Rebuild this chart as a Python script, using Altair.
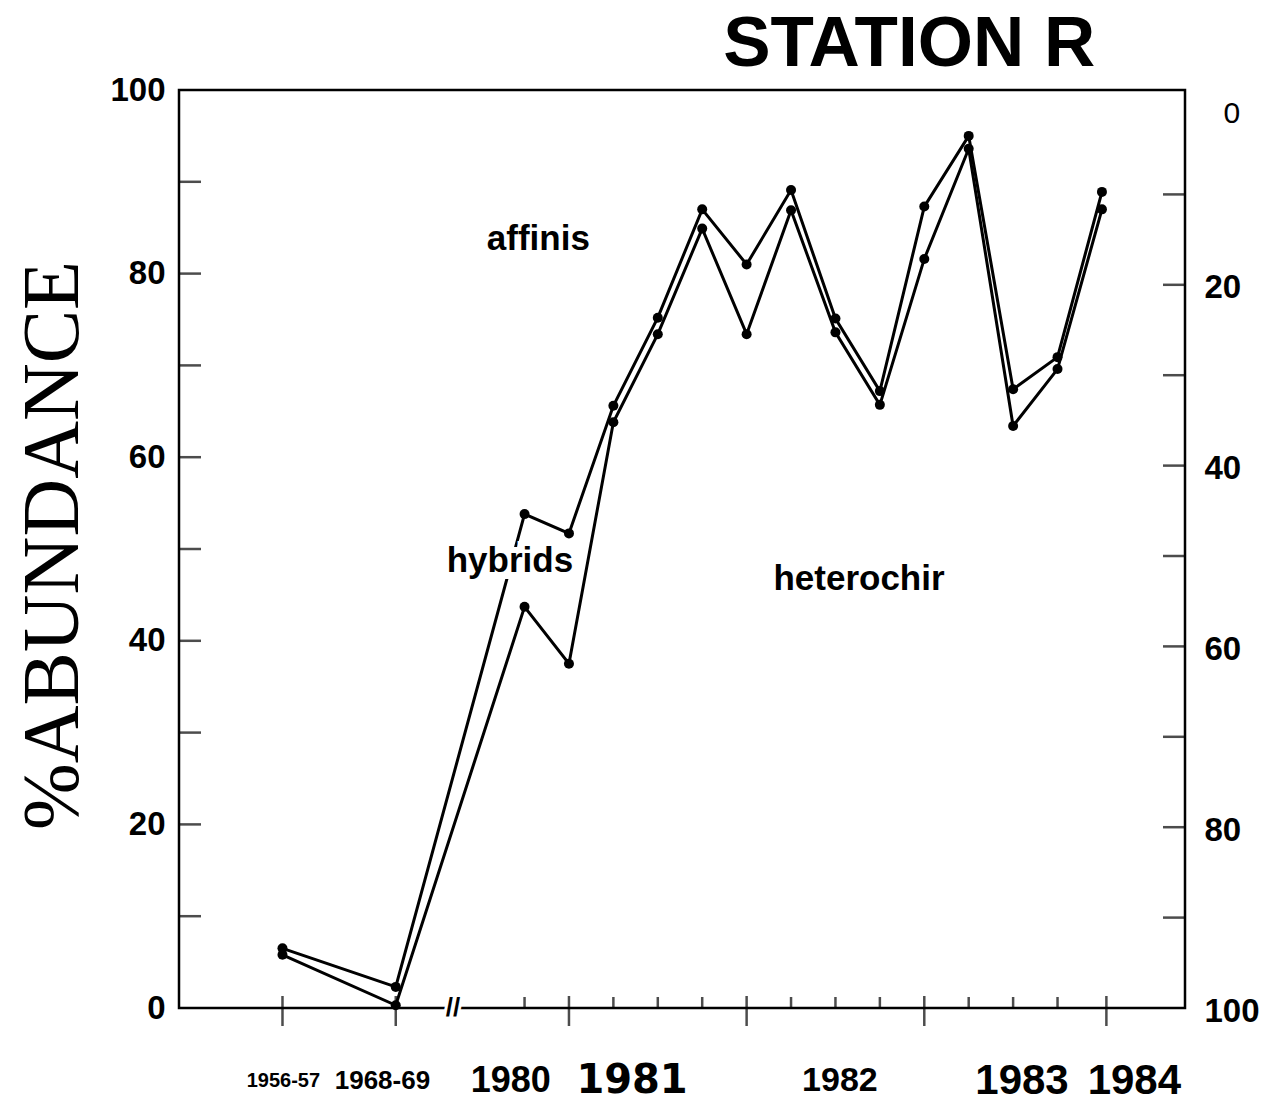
import altair as alt
import pandas as pd

# ---------------- data ----------------
x_pos = [-6.45, -3.9, -1, 0, 1, 2, 3, 4, 5, 6, 7, 8, 9, 10, 11, 12]
upper_line = [6.5, 2.3, 53.8, 51.7, 65.6, 75.2, 87.0, 81.0, 89.1, 75.1, 67.2, 87.3, 95.0, 67.4, 70.9, 88.9]
lower_line = [5.8, 0.3, 43.7, 37.5, 63.8, 73.4, 84.9, 73.4, 86.9, 73.6, 65.7, 81.6, 93.6, 63.4, 69.6, 87.0]

left_ticks = [10, 20, 30, 40, 50, 60, 70, 80, 90]
left_labels = [0, 20, 40, 60, 80, 100]
right_ticks = [10, 20, 30, 40, 50, 60, 70, 80, 90]
right_labels = [0, 20, 40, 60, 80, 100]
major_x_ticks = [-6.45, -3.9, 0, 4, 8, 12.1]
minor_x_ticks = [-1, 1, 2, 3, 5, 6, 7, 9, 10, 11]
break_x = [-2.61]

year_labels = ["1956-57", "1968-69", "1980", "1981", "1982", "1983", "1984"]
year_x = [-6.43, -4.2, -1.31, 1.42, 6.1, 10.2, 12.73]
year_font_sizes = [20, 26, 36, 40, 34, 42, 42]
year_fonts = ["Liberation Sans", "Liberation Sans", "Liberation Sans", "DejaVu Sans",
              "Liberation Sans", "Liberation Sans", "Liberation Sans"]

species = ["affinis", "hybrids", "heterochir"]
species_x = [-0.69, -1.33, 6.53]
species_v = [82.6, 47.5, 45.5]

title_text = ["STATION R"]
title_x = [7.66]
title_v = [102.6]

# ---------------- tables ----------------
rows = []
for i, (xv, u, l) in enumerate(zip(x_pos, upper_line, lower_line)):
    rows.append({"x": xv, "v": u, "series": "upper", "order": i})
    rows.append({"x": xv, "v": l, "series": "lower", "order": i})
lines_df = pd.DataFrame(rows)

W, H = 1006, 918
xscale = alt.Scale(domain=[-8.78, 13.87], nice=False, zero=False)
yscale = alt.Scale(domain=[0, 100], nice=False, zero=False)
rscale = alt.Scale(domain=[-1.55, 100], nice=False, zero=False, reverse=True)

yaxis = alt.Axis(
    values=left_labels, ticks=False, tickSize=0, domain=False, grid=False,
    labelFont="Liberation Sans", labelFontSize=33, labelFontWeight="bold",
    labelColor="black", labelPadding=14, labelOverlap=False,
    title="%ABUNDANCE", titleFont="Liberation Serif", titleFontSize=80,
    titleFontWeight="normal", titleColor="black", titleAngle=270,
    titleAlign="center", titleBaseline="middle", titleX=-126, titleY=455,
)
raxis = alt.Axis(
    orient="right", values=right_labels, ticks=False, tickSize=0, domain=False,
    grid=False, labelFont="Liberation Sans",
    labelFontSize={"condition": {"test": "datum.value == 0", "value": 30}, "value": 33},
    labelFontWeight={"condition": {"test": "datum.value == 0", "value": "normal"}, "value": "bold"},
    labelPadding={"condition": {"test": "datum.value == 0", "value": 38}, "value": 19},
    labelOffset={"condition": {"test": "datum.value == 0", "value": 9}, "value": 3},
    labelColor="black", labelOverlap=False, title=None,
)

X = alt.X("x:Q", scale=xscale, axis=None)
Y = alt.Y("v:Q", scale=yscale, axis=yaxis)

lines = alt.Chart(lines_df).mark_line(color="black", strokeWidth=3).encode(
    x=X, y=Y, detail="series:N", order="order:Q"
)
points = alt.Chart(lines_df).mark_circle(color="black", size=100, opacity=1).encode(x=X, y=Y)

lt = alt.Chart(pd.DataFrame({"v": left_ticks})).mark_tick(
    orient="horizontal", color="black", thickness=2.5, size=22
).encode(y=Y, x=alt.value(11))

maj = alt.Chart(pd.DataFrame({"x": major_x_ticks})).mark_tick(
    orient="vertical", color="black", thickness=2.5, size=30
).encode(x=X, y=alt.value(H + 3))
mnr = alt.Chart(pd.DataFrame({"x": minor_x_ticks})).mark_tick(
    orient="vertical", color="black", thickness=2.5, size=11
).encode(x=X, y=alt.value(H - 5.5))

brk_df = pd.DataFrame({"x": break_x, "v": [0], "t": ["//"]})
brk_halo = alt.Chart(brk_df).mark_text(
    font="Liberation Sans", fontSize=26, fontWeight="bold", color="white",
    stroke="white", strokeWidth=6, baseline="middle", align="center"
).encode(x=X, y=Y, text="t:N")
brk = alt.Chart(brk_df).mark_text(
    font="Liberation Sans", fontSize=26, fontWeight="bold", color="black",
    baseline="middle", align="center"
).encode(x=X, y=Y, text="t:N")

sp_df = pd.DataFrame({"x": species_x, "v": species_v, "t": species})
sp_halo = alt.Chart(sp_df[sp_df.t == "hybrids"]).mark_text(
    font="Liberation Sans", fontSize=34, fontWeight="bold", color="white",
    stroke="white", strokeWidth=14, baseline="alphabetic", align="center"
).encode(x=X, y=Y, text="t:N")
sp_text = alt.Chart(sp_df).mark_text(
    font="Liberation Sans", fontSize=35, fontWeight="bold", color="black",
    baseline="alphabetic", align="center"
).encode(x=X, y=Y, text="t:N")

yr_df = pd.DataFrame({"x": year_x, "v": [-8] * len(year_x), "t": year_labels,
                      "fs": year_font_sizes, "font": year_fonts})
yr_a = alt.Chart(yr_df[yr_df.font == "Liberation Sans"]).mark_text(
    font="Liberation Sans", fontWeight="bold", color="black",
    baseline="middle", align="center"
).encode(x=X, y=Y, text="t:N", size=alt.Size("fs:Q", scale=None, legend=None))
yr_b = alt.Chart(yr_df[yr_df.font == "DejaVu Sans"]).mark_text(
    font="DejaVu Sans", fontWeight="bold", color="black",
    baseline="middle", align="center"
).encode(x=X, y=Y, text="t:N", size=alt.Size("fs:Q", scale=None, legend=None))

ttl = alt.Chart(pd.DataFrame({"x": title_x, "v": title_v, "t": title_text})).mark_text(
    font="Liberation Sans", fontSize=71, fontWeight="bold", color="black",
    baseline="alphabetic", align="center"
).encode(x=X, y=Y, text="t:N")

left = alt.layer(lines, points, lt, maj, mnr, brk_halo, brk, sp_halo, sp_text, yr_a, yr_b, ttl)

right = alt.Chart(pd.DataFrame({"r": right_ticks})).mark_tick(
    orient="horizontal", color="black", thickness=2.5, size=22
).encode(y=alt.Y("r:Q", scale=rscale, axis=raxis), x=alt.value(W - 11))

chart = alt.layer(left, right).resolve_scale(y="independent").properties(
    width=W, height=H,
    autosize="none",
    padding={"left": 179, "top": 90, "right": 86, "bottom": 94},
    background="white",
).configure_view(stroke="black", strokeWidth=2.5)

chart.save("out.html", embed_options={"renderer": "svg", "actions": False})
